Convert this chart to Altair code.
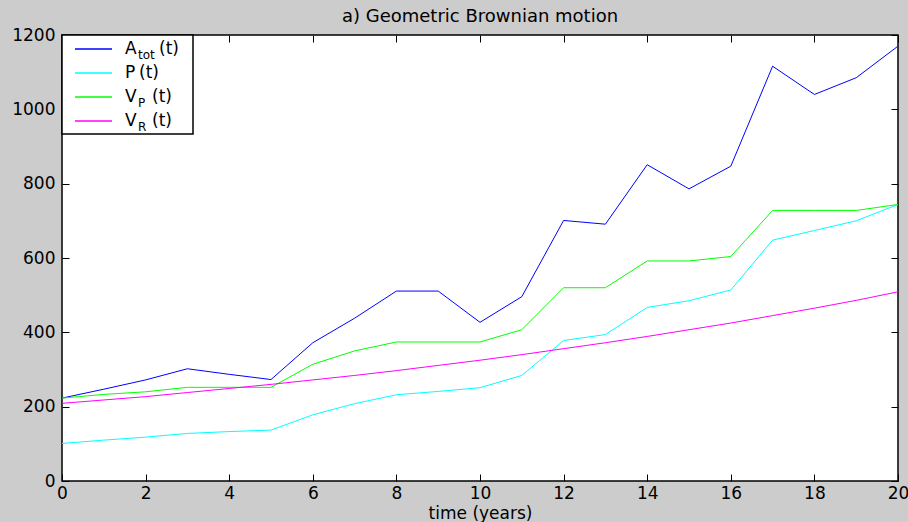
import altair as alt
import pandas as pd

# ---- data ----
years = list(range(21))
a_tot = [223, 247, 272, 302, 287, 273, 372, 438, 511, 511, 427, 496, 701, 691, 851, 786, 847, 1116, 1040, 1085, 1170]
p_vals = [101, 110, 118, 128, 133, 137, 178, 208, 232, 241, 251, 284, 378, 394, 467, 485, 514, 648, 674, 700, 744]
v_p = [223, 233, 240, 252, 252, 252, 314, 350, 374, 374, 374, 407, 520, 520, 592, 592, 604, 728, 728, 728, 744]
v_r = [209, 218, 227, 238, 249, 260, 272, 284, 297, 311, 325, 340, 356, 372, 389, 407, 425, 445, 465, 486, 509]
series_names = ["A_tot(t)", "P(t)", "V_P(t)", "V_R(t)"]
legend_main = ["A", "P", "V", "V"]
legend_sub = ["tot", "", "P", "R"]
legend_tail = ["(t)", "(t)", "(t)", "(t)"]
colors = ["#0000ff", "#00ffff", "#00ff00", "#ff00ff"]
x_ticks = list(range(0, 21, 2))
y_ticks = list(range(0, 1201, 200))
title_text = "a) Geometric Brownian motion"
x_title = "time (years)"

rows = []
for name, vals in zip(series_names, [a_tot, p_vals, v_p, v_r]):
    for t, v in zip(years, vals):
        rows.append({"t": t, "value": v, "series": name})
df = pd.DataFrame(rows)

FONT = "DejaVu Sans"
W, H = 836, 446

x_scale = alt.Scale(domain=[0, 20], nice=False, zero=False)
y_scale = alt.Scale(domain=[0, 1200], nice=False)

tick_common = dict(offset=-7, tickSize=7, tickColor="black", tickWidth=1,
                   domain=False, grid=False)
label_common = dict(labelFont=FONT, labelFontSize=17, labelColor="black", format="d")

lines = alt.Chart(df).mark_line(strokeWidth=1).encode(
    x=alt.X("t:Q", scale=x_scale,
            axis=alt.Axis(values=x_ticks, title=x_title, titleFont=FONT, titleFontSize=17,
                          titleFontWeight="normal", titleColor="black", titlePadding=4,
                          labelPadding=4, labelFlush=False, **tick_common, **label_common)),
    y=alt.Y("value:Q", scale=y_scale,
            axis=alt.Axis(values=y_ticks, title=None, labelPadding=7, **tick_common, **label_common)),
    color=alt.Color("series:N", scale=alt.Scale(domain=series_names, range=colors), legend=None),
)

mirror = alt.Chart(df).mark_line(opacity=0).encode(
    x=alt.X("t:Q", scale=x_scale,
            axis=alt.Axis(orient="top", values=x_ticks, labels=False, title=None, **tick_common)),
    y=alt.Y("value:Q", scale=y_scale,
            axis=alt.Axis(orient="right", values=y_ticks, labels=False, title=None, **tick_common)),
    detail="series:N",
)

one = pd.DataFrame({"k": [0]})
legend_layers = [
    alt.Chart(one).mark_rect(fill="white", stroke="black", strokeWidth=1.5).encode(
        x=alt.value(0), x2=alt.value(131), y=alt.value(0), y2=alt.value(99))
]
for i in range(4):
    yc = 14 + 24 * i
    legend_layers.append(
        alt.Chart(one).mark_rule(strokeWidth=1.5, color=colors[i]).encode(
            x=alt.value(13), x2=alt.value(50), y=alt.value(yc)))
    legend_layers.append(
        alt.Chart(one).mark_text(font=FONT, fontSize=17, align="left", baseline="middle", color="black").encode(
            x=alt.value(63), y=alt.value(yc), text=alt.value(legend_main[i])))
    if legend_sub[i]:
        legend_layers.append(
            alt.Chart(one).mark_text(font=FONT, fontSize=12, align="left", baseline="middle", color="black").encode(
                x=alt.value(76), y=alt.value(yc + 6), text=alt.value(legend_sub[i])))
        tail_x = 97 if len(legend_sub[i]) > 1 else 90
    else:
        tail_x = 77
    legend_layers.append(
        alt.Chart(one).mark_text(font=FONT, fontSize=17, align="left", baseline="middle", color="black").encode(
            x=alt.value(tail_x), y=alt.value(yc), text=alt.value(legend_tail[i])))

chart = alt.layer(lines, mirror, *legend_layers).resolve_axis(
    x="independent", y="independent"
).properties(
    width=W, height=H,
    title=alt.Title(title_text, font=FONT, fontSize=18, fontWeight="normal", color="black",
                    anchor="middle", offset=0),
    autosize=alt.AutoSizeParams(type="none"),
    padding={"left": 62, "top": 35, "right": 10, "bottom": 41},
    background="#cccccc",
).configure_view(
    stroke="black", strokeWidth=1.5, fill="white"
)

chart.save("out.html", embed_options={"renderer": "svg", "actions": False})
